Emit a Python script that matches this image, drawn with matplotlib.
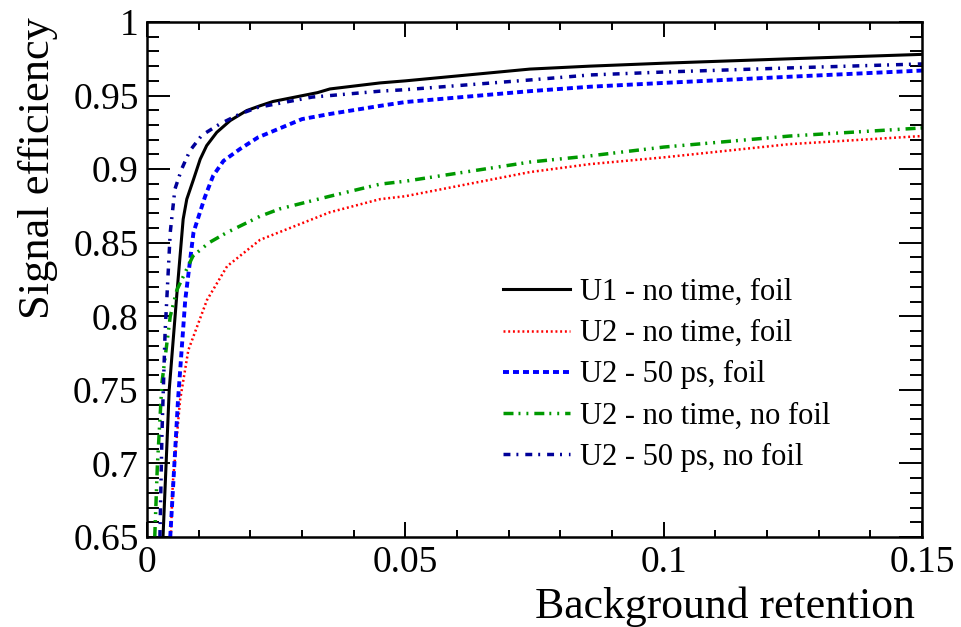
import matplotlib
matplotlib.use("Agg")
import matplotlib.pyplot as plt
from matplotlib.ticker import MultipleLocator, FixedFormatter, FixedLocator

# ---- data ----
u1_nt_f_x = [0.0031, 0.0043, 0.0058, 0.0070, 0.0077, 0.0090, 0.0103, 0.01155, 0.0135, 0.0161,
             0.0193, 0.0219, 0.0244, 0.033, 0.0354, 0.0451, 0.05, 0.0741, 0.0857, 0.1,
             0.1244, 0.15]
u1_nt_f_y = [0.65, 0.75, 0.816, 0.866, 0.8796, 0.893, 0.9068, 0.916, 0.925, 0.933,
             0.9398, 0.9431, 0.946, 0.952, 0.9545, 0.9586, 0.960, 0.968, 0.970, 0.972,
             0.975, 0.978]

u2_nt_f_x = [0.0046, 0.005, 0.0064, 0.008, 0.0116, 0.0155, 0.0219, 0.0354, 0.0451, 0.05,
             0.0741, 0.0857, 0.1, 0.1244, 0.15]
u2_nt_f_y = [0.65, 0.687, 0.743, 0.777, 0.811, 0.834, 0.852, 0.8707, 0.8796, 0.8816,
             0.898, 0.9034, 0.908, 0.917, 0.9225]

u2_50_f_x = [0.0045, 0.006, 0.0074, 0.009, 0.0112, 0.0128, 0.0148, 0.018, 0.0215, 0.030,
             0.0354, 0.0451, 0.05, 0.0741, 0.0857, 0.1, 0.1244, 0.15]
u2_50_f_y = [0.65, 0.743, 0.811, 0.857, 0.881, 0.8955, 0.9056, 0.9137, 0.9216, 0.934,
             0.9375, 0.943, 0.9456, 0.953, 0.956, 0.9586, 0.9628, 0.967]

u2_nt_nf_x = [0.0015, 0.0020, 0.0029, 0.0045, 0.0058, 0.0089, 0.012, 0.0155, 0.0219, 0.0257,
              0.0354, 0.0451, 0.05, 0.0741, 0.0857, 0.1, 0.1244, 0.15]
u2_nt_nf_y = [0.65, 0.698, 0.755, 0.80, 0.818, 0.841, 0.85, 0.857, 0.868, 0.873,
              0.8816, 0.8898, 0.8918, 0.9048, 0.909, 0.915, 0.9225, 0.928]

u2_50_nf_x = [0.0025, 0.0029, 0.0035, 0.0045, 0.0054, 0.0067, 0.0083, 0.0106, 0.0141, 0.018,
              0.0215, 0.032, 0.0354, 0.0451, 0.05, 0.0741, 0.0857, 0.1, 0.1244, 0.15]
u2_50_nf_y = [0.65, 0.721, 0.789, 0.857, 0.8864, 0.900, 0.9125, 0.923, 0.9307, 0.9375,
              0.942, 0.949, 0.950, 0.953, 0.954, 0.9606, 0.964, 0.966, 0.9688, 0.9715]

labels = ["U1 - no time, foil", "U2 - no time, foil", "U2 - 50 ps, foil",
          "U2 - no time, no foil", "U2 - 50 ps, no foil"]

x_ticks = [0, 0.05, 0.1, 0.15]
x_tick_labels = ["0", "0.05", "0.1", "0.15"]
y_ticks = [0.65, 0.7, 0.75, 0.8, 0.85, 0.9, 0.95, 1.0]
y_tick_labels = ["0.65", "0.7", "0.75", "0.8", "0.85", "0.9", "0.95", "1"]

# ---- style ----
plt.rcParams['font.family'] = ['Liberation Serif', 'DejaVu Serif']
plt.rcParams['lines.scale_dashes'] = False

fig = plt.figure(figsize=(9.61, 6.27), dpi=100)
ax = fig.add_axes([147/961, 1 - 537/627, (922 - 147)/961, (537 - 22)/627])

ax.plot(u1_nt_f_x, u1_nt_f_y, color='black', lw=2.2, ls='-', label=labels[0])
ax.plot(u2_nt_f_x, u2_nt_f_y, color='#ff0000', lw=1.8, ls=(0, (1.4, 2.0)), label=labels[1])
ax.plot(u2_50_f_x, u2_50_f_y, color='#0000ff', lw=2.8, ls=(0, (4.3, 2.9)), label=labels[2])
ax.plot(u2_nt_nf_x, u2_nt_nf_y, color='#009900', lw=2.5,
        ls=(0, (7.2, 3.6, 1.4, 4.3, 1.4, 4.3)), label=labels[3])
ax.plot(u2_50_nf_x, u2_50_nf_y, color='#000099', lw=2.5,
        ls=(0, (5.0, 4.3, 1.4, 5.0)), label=labels[4])

ax.set_xlim(0, 0.15)
ax.set_ylim(0.65, 1.0)
ax.xaxis.set_major_locator(FixedLocator(x_ticks))
ax.xaxis.set_major_formatter(FixedFormatter(x_tick_labels))
ax.yaxis.set_major_locator(FixedLocator(y_ticks))
ax.yaxis.set_major_formatter(FixedFormatter(y_tick_labels))
ax.xaxis.set_minor_locator(MultipleLocator(0.01))
ax.yaxis.set_minor_locator(MultipleLocator(0.01))

for s in ax.spines.values():
    s.set_linewidth(1.8)

ax.tick_params(axis='both', which='both', direction='in', top=True, right=True,
               labelsize=27, width=1.4, colors='black')
ax.tick_params(axis='x', which='major', length=10.8, pad=6)
ax.tick_params(axis='x', which='minor', length=5.4)
ax.tick_params(axis='y', which='major', length=16.5, pad=6)
ax.tick_params(axis='y', which='minor', length=8.6)

fig.text(38/961, 1 - 17/627, "Signal efficiency", rotation=90, ha='center', va='top',
         fontsize=32)
fig.text(915/961, 1 - 607/627, "Background retention", ha='right', va='center',
         fontsize=31.5)

leg = ax.legend(loc='upper left', bbox_to_anchor=(503/961, 1 - 278/627),
                bbox_transform=fig.transFigure, frameon=False, fontsize=22,
                handlelength=2.2, handletextpad=0.33, labelspacing=0.4,
                borderpad=0, borderaxespad=0)

fig.savefig("out.png", dpi=100, facecolor='white')
